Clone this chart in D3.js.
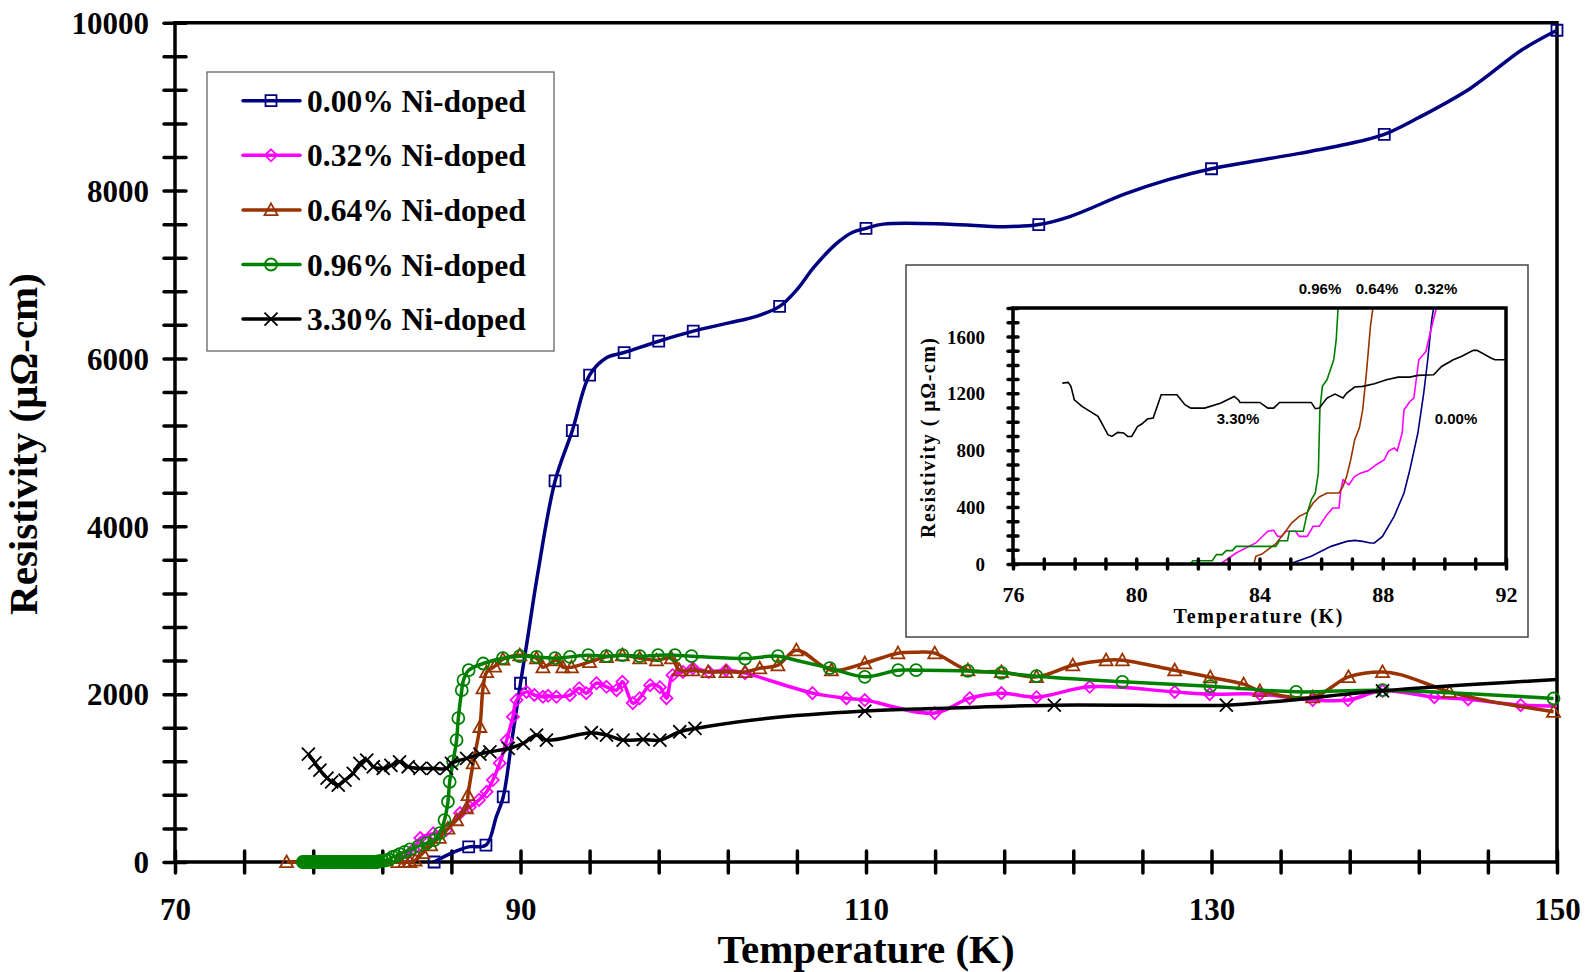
<!DOCTYPE html>
<meta charset="utf-8">
<html>
<head>
<style>
  body { margin: 0; background: #fff; }
  .axis path.domain { display: none; }
  .axis line { stroke: #000; stroke-linecap: round; }
  .axis text { font-family: "Liberation Serif", "Times New Roman", serif; font-weight: bold; fill: #000; }
  .title { font-family: "Liberation Serif", "Times New Roman", serif; font-weight: bold; fill: #000; }
  .tag { font-family: "Liberation Sans", Arial, sans-serif; font-weight: bold; font-size: 15px; fill: #000; }
</style>
</head>
<body>
<div id="chart"></div>
<script src="https://cdn.jsdelivr.net/npm/d3@7"></script>
<script>

// ---- main chart data: [temperature K, resistivity µΩ-cm, marker shown 1/0]
var ni000 = [[85,0,1],[86,105,0],[87,180,1],[88,200,1],[88.6,540,0],[89,775,1],[89.5,1450,0],[90,2130,1],
  [90.4,2650,0],[91,3440,0],[92,4540,1],[93,5140,1],[94,5800,1],[95,6010,0],[96,6070,1],[98,6205,1],
  [100,6325,1],[102,6420,0],[103.7,6505,0],[105,6620,1],[106,6820,0],[107,7090,0],[108.3,7370,0],
  [109.2,7500,0],[110,7550,1],[111,7600,0],[114.8,7600,0],[118,7570,0],[120,7595,1],[121.8,7690,0],
  [125,7960,0],[127.5,8130,0],[130,8260,1],[135,8440,0],[138,8560,0],[140,8670,1],[142,8870,0],
  [145,9220,0],[148,9680,0],[150,9910,1]];

var ni032 = [[82.7,0,0],[83.3,70,1],[83.8,150,1],[84.2,286,1],[84.95,341,1],[85.7,381,1],[86.5,583,1],
  [87.07,655,1],[87.6,740,1],[88.04,837,1],[88.4,976,1],[88.8,1178,1],[89.2,1452,1],[89.56,1730,1],
  [89.77,1929,1],[90.35,2027,1],[90.8,1990,1],[91.3,1968,1],[91.6,1980,1],[92.08,1968,1],[92.86,1988,1],
  [93.4,2071,1],[93.8,2012,1],[94.4,2131,1],[94.98,2087,1],[95.56,2047,1],[95.9,2147,1],[96.5,1893,1],
  [96.9,1952,1],[97.5,2107,1],[98.07,2083,1],[98.45,1952,1],[98.8,2226,1],[99.4,2265,1],[99.98,2309,1],
  [100.9,2265,1],[101.9,2285,1],[103,2250,1],[106.9,2012,1],[108.87,1952,1],[109.93,1929,1],
  [113.98,1774,1],[116,1952,1],[117.84,2012,1],[119.87,1964,1],[122.95,2087,1],[127.87,2027,1],
  [129.9,2000,1],[132.8,2000,1],[135.86,1929,1],[137.9,1929,1],[139.9,2039,1],[142.9,1964,1],
  [144.86,1940,1],[147.9,1869,1],[150,1860,0]];

var ni064 = [[76.46,0,1],[78,0,0],[80,0,0],[82,0,0],[82.9,0,1],[83.3,0,1],[83.6,0,1],[83.9,20,1],
  [84.35,107,1],[84.8,200,1],[85.3,290,1],[85.8,400,1],[86.3,500,1],[86.88,643,1],[86.96,798,1],
  [87.26,1178,1],[87.65,1611,1],[87.83,2071,1],[88.04,2265,1],[88.5,2330,1],[88.98,2415,1],
  [89.96,2464,1],[90.93,2428,1],[91.3,2321,1],[92.08,2404,1],[92.45,2321,1],[92.95,2321,1],[94,2384,1],
  [94.98,2444,1],[95.9,2464,1],[96.9,2428,1],[97.87,2404,1],[98.74,2428,1],[99.2,2285,1],[99.98,2285,1],
  [100.86,2265,1],[101.9,2265,1],[103,2265,1],[103.85,2309,1],[104.9,2345,1],[105.97,2524,1],
  [108,2285,1],[109.93,2369,1],[111.85,2488,1],[113,2500,0],[113.98,2488,1],[115.9,2285,1],
  [117.84,2265,1],[119.87,2206,1],[121.97,2345,1],[123.9,2405,1],[124.84,2405,1],[127.87,2285,1],
  [129.93,2202,1],[131.86,2119,1],[132.8,2039,1],[135.86,1964,1],[137.93,2206,1],[139.9,2265,1],
  [141,2230,0],[143.77,2027,1],[146,1920,0],[148,1850,0],[149.8,1790,1]];

var ni096 = [[77.4,0,1],[77.5,0,1],[77.6,0,1],[77.7,0,1],[77.8,0,1],[77.9,0,1],[78,0,1],[78.1,0,1],
  [78.2,0,1],[78.3,0,1],[78.4,0,1],[78.5,0,1],[78.6,0,1],[78.7,0,1],[78.8,0,1],[78.9,0,1],[79,0,1],
  [79.1,0,1],[79.2,0,1],[79.3,0,1],[79.4,0,1],[79.5,0,1],[79.6,0,1],[79.7,0,1],[79.8,0,1],[79.9,0,1],
  [80,0,1],[80.1,0,1],[80.2,0,1],[80.3,0,1],[80.4,0,1],[80.5,0,1],[80.6,0,1],[80.7,0,1],[80.8,0,1],
  [80.9,0,1],[81,0,1],[81.1,0,1],[81.2,0,1],[81.3,0,1],[81.4,0,1],[81.5,0,1],[81.6,0,1],[81.7,0,1],
  [81.8,10,1],[82,15,1],[82.2,20,1],[82.4,30,1],[82.6,60,1],[82.8,70,1],[83,95,1],[83.3,120,1],
  [83.6,150,1],[84.1,190,1],[84.57,226,1],[85,260,1],[85.33,345,1],[85.6,500,1],[85.8,718,1],
  [85.9,956,1],[86.1,1200,1],[86.3,1452,1],[86.4,1714,1],[86.6,2047,1],[86.7,2167,1],[87,2285,1],
  [87.84,2365,1],[88.98,2428,1],[89.96,2452,1],[90.93,2444,1],[92,2428,1],[92.86,2444,1],[93.92,2464,1],
  [94.98,2452,1],[95.9,2464,1],[96.9,2452,1],[97.96,2464,1],[98.94,2464,1],[99.9,2452,1],[103,2424,1],
  [104.9,2452,1],[106,2400,0],[107.9,2309,1],[109.93,2206,1],[111.86,2285,1],[112.9,2285,1],
  [115.9,2277,1],[117.84,2254,1],[119.87,2214,1],[124.84,2147,1],[129.93,2095,1],[134.9,2027,1],
  [139.9,2047,1],[149.8,1948,1]];

var ni330 = [[77.72,1286,1],[78.1,1180,1],[78.39,1095,1],[78.8,1000,1],[79.07,956,1],[79.45,917,1],
  [79.84,976,1],[80.32,1056,1],[80.7,1175,1],[81.1,1214,1],[81.48,1135,1],[82.05,1115,1],[82.5,1150,1],
  [83,1194,1],[83.5,1135,1],[84.18,1115,1],[84.95,1115,1],[85.72,1115,1],[86,1175,1],[86.88,1234,1],
  [87.65,1286,1],[88.23,1313,1],[89.29,1353,1],[90.16,1413,1],[90.93,1512,1],[91.5,1452,1],
  [94.1,1540,1],[94.98,1512,1],[95.94,1452,1],[97.1,1460,1],[98.07,1452,1],[99.22,1552,1],
  [100.1,1591,1],[104.2,1710,0],[109.93,1798,1],[113.9,1829,0],[120.9,1869,1],[130.86,1869,1],
  [133.55,1909,0],[139.9,2039,1],[150,2175,0]];

// ---- inset data (raw curves, 76-92 K)
var in000 = [[84.97,0],[85.68,54],[86.32,124],[86.83,159],[87.09,166],[87.35,159],[87.6,148],[87.73,148],
  [87.99,194],[88.37,335],[88.69,499],[88.88,663],[89.14,921],[89.33,1202],[89.46,1436],[89.59,1717],[89.65,1799]];
var in032 = [[82.73,0],[83.24,77],[83.88,148],[84.27,230],[84.46,237],[84.59,194],[84.72,194],[84.85,230],
  [85.17,230],[85.29,194],[85.55,194],[85.74,265],[85.94,265],[86.19,347],[86.38,394],[86.58,394],
  [86.64,522],[86.71,593],[86.9,557],[87.09,616],[87.28,639],[87.54,658],[87.79,698],[88.05,733],
  [88.18,792],[88.37,815],[88.47,796],[88.63,921],[88.69,1085],[88.88,1143],[89.01,1167],[89.17,1436],
  [89.4,1494],[89.59,1670],[89.74,1799]];
var in064 = [[76.51,0],[83.82,0],[83.88,54],[84.08,70],[84.27,101],[84.53,143],[84.85,230],[85.04,288],
  [85.29,335],[85.55,363],[85.74,429],[85.94,471],[86.19,499],[86.58,499],[86.71,546],[86.83,616],
  [86.96,733],[87.09,874],[87.24,956],[87.35,1085],[87.47,1342],[87.6,1670],[87.68,1799]];
var in096 = [[77.73,0],[81.77,0],[81.83,23],[82.47,23],[82.6,66],[82.79,66],[82.92,94],[83.12,94],
  [83.24,124],[84.53,124],[84.65,164],[84.91,164],[84.97,230],[85.42,230],[85.55,358],[85.68,452],
  [85.81,499],[85.91,640],[85.96,1085],[86.04,1249],[86.19,1295],[86.41,1436],[86.49,1577],[86.55,1799]];
var in330 = [[77.6,1272],[77.79,1277],[77.88,1249],[77.99,1155],[78.24,1108],[78.76,1038],[78.88,991],
  [79.08,909],[79.21,897],[79.4,925],[79.59,921],[79.72,897],[79.85,897],[80.04,967],[80.19,986],
  [80.36,1019],[80.55,1026],[80.81,1190],[81.32,1190],[81.58,1120],[81.77,1096],[82.22,1096],
  [82.73,1131],[83.18,1178],[83.31,1155],[83.37,1136],[84.01,1136],[84.27,1096],[84.46,1096],
  [84.65,1136],[85.68,1136],[85.81,1092],[85.94,1096],[86.19,1167],[86.45,1195],[86.71,1167],
  [86.83,1202],[87.09,1244],[87.35,1249],[87.73,1267],[88.12,1295],[88.5,1314],[88.88,1314],
  [89.14,1326],[89.65,1331],[89.91,1389],[90.29,1436],[90.55,1459],[90.94,1502],[91.06,1502],
  [91.51,1448],[91.64,1436],[91.96,1436]];

var legendLabels = ["0.00% Ni-doped", "0.32% Ni-doped", "0.64% Ni-doped", "0.96% Ni-doped", "3.30% Ni-doped"];
var colors = ["#000080", "#FF00FF", "#993300", "#008000", "#000000"];
var markers = ["square", "diamond", "triangle", "circle", "cross"];

var xTicks = d3.range(70, 151, 4), xLabels = [70, 90, 110, 130, 150];
var yTicks = d3.range(0, 10001, 400), yLabels = [0, 2000, 4000, 6000, 8000, 10000];
var inXTicks = d3.range(76, 93, 1), inXLabels = [76, 80, 84, 88, 92];
var inYTicks = d3.range(0, 1801, 100), inYLabels = [0, 400, 800, 1200, 1600];

var series = [ni000, ni032, ni064, ni096, ni330];
var inset = [in000, in032, in064, in096, in330];

// marker shapes drawn around 0,0
function markerPath(kind, s) {
  var h = s / 2;
  if (kind == "square") return "M" + (-h) + "," + (-h) + "h" + s + "v" + s + "h" + (-s) + "Z";
  if (kind == "diamond") return "M0," + (-h) + "L" + h + ",0L0," + h + "L" + (-h) + ",0Z";
  if (kind == "triangle") return "M0," + (-h) + "L" + h + "," + (h * 0.8) + "L" + (-h) + "," + (h * 0.8) + "Z";
  if (kind == "circle") return "M" + h + ",0A" + h + "," + h + " 0 1,1 " + (-h) + ",0A" + h + "," + h + " 0 1,1 " + h + ",0Z";
  return "M" + (-h) + "," + (-h) + "L" + h + "," + h + "M" + h + "," + (-h) + "L" + (-h) + "," + h;
}
var markerSize = {square: 11, diamond: 12, triangle: 13, circle: 12, cross: 13};

var svg = d3.select("#chart").append("svg")
  .attr("width", 1585).attr("height", 972);

var x = d3.scaleLinear().domain([70, 150]).range([175, 1557]);
var y = d3.scaleLinear().domain([0, 10000]).range([862, 22.7]);

// axes
var gx = svg.append("g").attr("class", "axis").attr("transform", "translate(0,862)")
  .call(d3.axisBottom(x).tickValues(xTicks).tickFormat(function(d) { return xLabels.indexOf(d) >= 0 ? d : ""; }));
gx.selectAll(".tick line").attr("y1", -11).attr("y2", 11).attr("stroke-width", 3.5);
gx.selectAll(".tick text").attr("y", 58).attr("dy", 0).style("font-size", "31px");

var gy = svg.append("g").attr("class", "axis").attr("transform", "translate(175,0)")
  .call(d3.axisLeft(y).tickValues(yTicks).tickFormat(function(d) { return yLabels.indexOf(d) >= 0 ? d : ""; }));
gy.selectAll(".tick line").attr("x1", -11).attr("x2", 11).attr("stroke-width", 3.5);
gy.selectAll(".tick text").attr("x", -26).attr("dy", "0.35em").style("font-size", "31px");

svg.append("path")
  .attr("d", "M175,22.7H1557V862H175Z")
  .attr("fill", "none").attr("stroke", "#000").attr("stroke-width", 3.5);

svg.append("text").attr("class", "title")
  .attr("x", 866).attr("y", 963).attr("text-anchor", "middle")
  .style("font-size", "41px").text("Temperature (K)");
svg.append("text").attr("class", "title")
  .attr("transform", "translate(37,444) rotate(-90)").attr("text-anchor", "middle")
  .style("font-size", "41px").text("Resistivity (\u03bc\u03a9-cm)");

// series
var line = d3.line()
  .x(function(d) { return x(d[0]); })
  .y(function(d) { return y(d[1]); })
  .curve(d3.curveCatmullRom.alpha(0.5));

series.forEach(function(data, i) {
  var g = svg.append("g");
  g.append("path").attr("d", line(data))
    .attr("fill", "none").attr("stroke", colors[i]).attr("stroke-width", 3.5)
    .attr("stroke-linejoin", "round");
  g.selectAll("path.mk").data(data.filter(function(d) { return d[2]; })).enter()
    .append("path").attr("class", "mk")
    .attr("transform", function(d) { return "translate(" + x(d[0]) + "," + y(d[1]) + ")"; })
    .attr("d", markerPath(markers[i], markerSize[markers[i]]))
    .attr("fill", "none").attr("stroke", colors[i]).attr("stroke-width", 1.8);
});

// legend
var lg = svg.append("g");
lg.append("rect").attr("x", 207).attr("y", 72).attr("width", 347).attr("height", 279)
  .attr("fill", "#fff").attr("stroke", "#666").attr("stroke-width", 1.3);
legendLabels.forEach(function(lab, i) {
  var yy = 100.7 + i * 54.6;
  lg.append("line").attr("x1", 243).attr("x2", 300).attr("y1", yy).attr("y2", yy)
    .attr("stroke", colors[i]).attr("stroke-width", 3.5).attr("stroke-linecap", "round");
  lg.append("path").attr("transform", "translate(271," + yy + ")")
    .attr("d", markerPath(markers[i], markerSize[markers[i]]))
    .attr("fill", "none").attr("stroke", colors[i]).attr("stroke-width", 1.8);
  lg.append("text").attr("class", "title").attr("x", 307).attr("y", yy + 11)
    .style("font-size", "31.5px").text(lab);
});

// inset
var ix = d3.scaleLinear().domain([76, 92]).range([1013, 1506]);
var iy = d3.scaleLinear().domain([0, 1800]).range([564, 308]);

svg.append("rect").attr("x", 906).attr("y", 265).attr("width", 622).attr("height", 372)
  .attr("fill", "#fff").attr("stroke", "#444").attr("stroke-width", 1.5);

svg.append("clipPath").attr("id", "inclip").append("rect")
  .attr("x", 1013).attr("y", 306).attr("width", 493).attr("height", 260);

var iline = d3.line()
  .x(function(d) { return ix(d[0]); })
  .y(function(d) { return iy(d[1]); });

var ig = svg.append("g").attr("clip-path", "url(#inclip)");
inset.forEach(function(data, i) {
  ig.append("path").attr("d", iline(data))
    .attr("fill", "none").attr("stroke", colors[i]).attr("stroke-width", 1.6);
});

var igx = svg.append("g").attr("class", "axis").attr("transform", "translate(0,564)")
  .call(d3.axisBottom(ix).tickValues(inXTicks).tickFormat(function(d) { return inXLabels.indexOf(d) >= 0 ? d : ""; }));
igx.selectAll(".tick line").attr("y1", -5).attr("y2", 5).attr("stroke-width", 3.5);
igx.selectAll(".tick text").attr("y", 38).attr("dy", 0).style("font-size", "22px");

var igy = svg.append("g").attr("class", "axis").attr("transform", "translate(1013,0)")
  .call(d3.axisLeft(iy).tickValues(inYTicks).tickFormat(function(d) { return inYLabels.indexOf(d) >= 0 ? d : ""; }));
igy.selectAll(".tick line").attr("x1", -5).attr("x2", 5).attr("stroke-width", 3.5);
igy.selectAll(".tick text").attr("x", -28).attr("dy", "0.35em").style("font-size", "19px");

svg.append("path").attr("d", "M1013,308H1506V564H1013Z")
  .attr("fill", "none").attr("stroke", "#000").attr("stroke-width", 3.5);

svg.append("text").attr("class", "title")
  .attr("x", 1258).attr("y", 623).attr("text-anchor", "middle")
  .attr("textLength", 169).attr("lengthAdjust", "spacing")
  .style("font-size", "20px").text("Temperature (K)");
svg.append("text").attr("class", "title")
  .attr("transform", "translate(935,438) rotate(-90)").attr("text-anchor", "middle")
  .attr("textLength", 200).attr("lengthAdjust", "spacing")
  .style("font-size", "20px").text("Resistivity (  \u03bc\u03a9-cm)");

var tags = [["0.96%", 1320, 294], ["0.64%", 1377, 294], ["0.32%", 1436, 294], ["3.30%", 1238, 424], ["0.00%", 1456, 424]];
tags.forEach(function(t) {
  svg.append("text").attr("class", "tag").attr("x", t[1]).attr("y", t[2])
    .attr("text-anchor", "middle").text(t[0]);
});

</script>
</body>
</html>
